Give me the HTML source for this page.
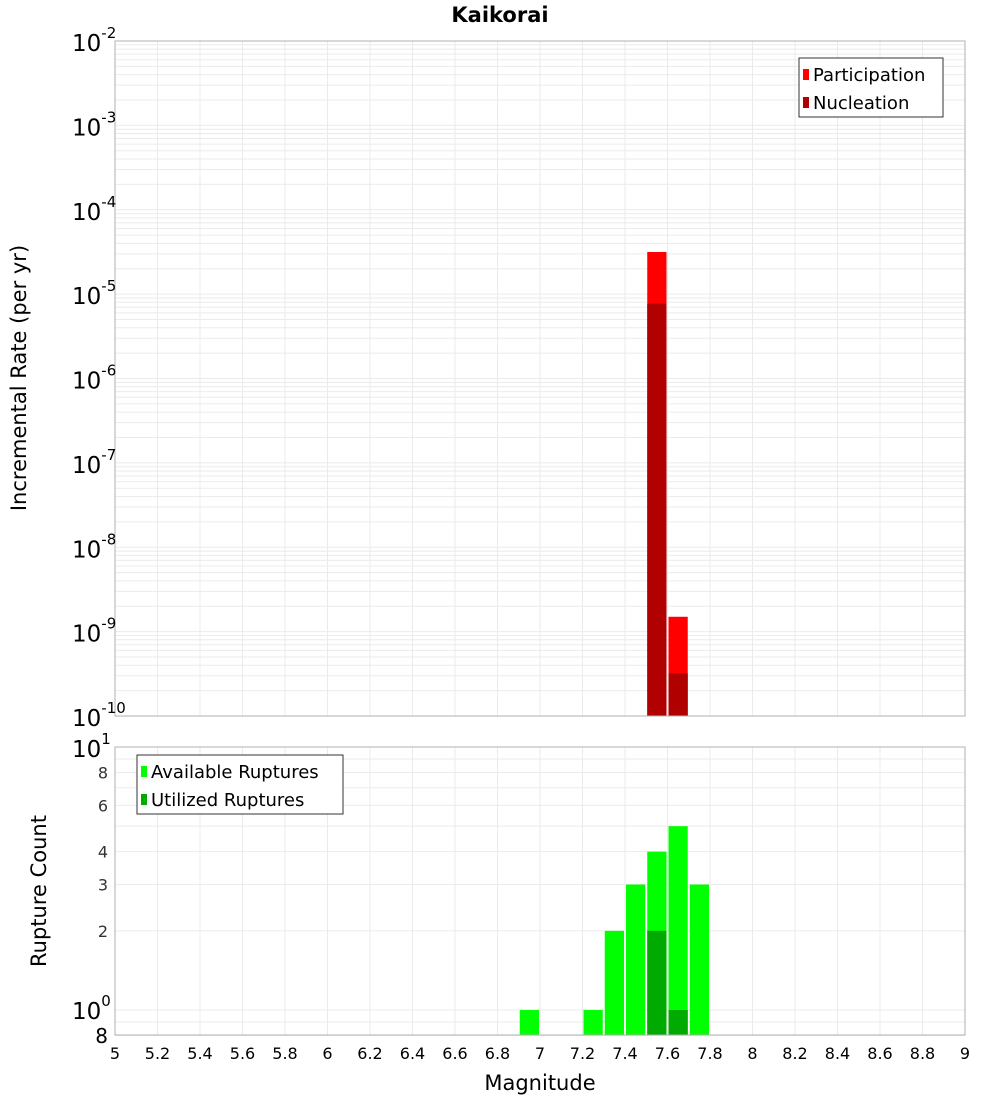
<!DOCTYPE html>
<html><head><meta charset="utf-8"><style>
body{margin:0;background:#fff;font-family:"DejaVu Sans","Liberation Sans",sans-serif}
</style></head><body>
<svg id="c" width="1000" height="1100" xmlns="http://www.w3.org/2000/svg" font-family="DejaVu Sans, Liberation Sans, sans-serif"></svg>
<script>
const binCenters=[7.55,7.65];
const participation=[3.16e-5,1.5e-9];
const nucleation=[7.7e-6,3.2e-10];
const countCenters=[6.95,7.25,7.35,7.45,7.55,7.65,7.75];
const available=[1,1,2,3,4,5,3];
const utilized=[0,0,0,0,2,1,0];
const xTicks=[5,5.2,5.4,5.6,5.8,6,6.2,6.4,6.6,6.8,7,7.2,7.4,7.6,7.8,8,8.2,8.4,8.6,8.8,9];
const topExps=[-2,-3,-4,-5,-6,-7,-8,-9,-10];
const botTicks=[8,6,4,3,2];

const NS="http://www.w3.org/2000/svg";
const svg=document.getElementById('c');
function mk(t,a,p){const e=document.createElementNS(NS,t);for(const k in a)e.setAttribute(k,a[k]);(p||svg).appendChild(e);return e;}
const L=115,R=965,T1=41,B1=716,T2=747,B2=1035;
const x=v=>L+(v-5)*(R-L)/4;
const y1=v=>T1+(-2-Math.log10(v))*(B1-T1)/8;
const y2=v=>1010-Math.log10(v)*263;
const bw=(R-L)/40-2;

// title
let t=mk('text',{x:500,y:22,'text-anchor':'middle','font-size':21,'font-weight':'bold'});t.textContent='Kaikorai';


// grids
const g=mk('g',{});
xTicks.forEach(v=>{mk('line',{x1:x(v),x2:x(v),y1:T1,y2:B1,stroke:'#ebebeb'},g);mk('line',{x1:x(v),x2:x(v),y1:T2,y2:B2,stroke:'#ebebeb'},g);});
for(let e=-10;e<-2;e++)for(let m=1;m<10;m++){const yy=y1(m*Math.pow(10,e));mk('line',{x1:L,x2:R,y1:yy,y2:yy,stroke:'#ebebeb'},g);}
[0.8,0.9,1,2,3,4,5,6,7,8,9].forEach(v=>{const yy=y2(v);mk('line',{x1:L,x2:R,y1:yy,y2:yy,stroke:'#ebebeb'},g);});

// top bars
binCenters.forEach((c,i)=>{
 let r=mk('rect',{x:x(c)-bw/2,y:y1(participation[i]),width:bw,height:B1-y1(participation[i]),fill:'#ff0000'});
 
 r=mk('rect',{x:x(c)-bw/2,y:y1(nucleation[i]),width:bw,height:B1-y1(nucleation[i]),fill:'#b00000'});
 
});
// bottom bars
countCenters.forEach((c,i)=>{
 let r=mk('rect',{x:x(c)-bw/2,y:y2(available[i]),width:bw,height:B2-y2(available[i]),fill:'#00ff00'});
 
 if(utilized[i]>0){r=mk('rect',{x:x(c)-bw/2,y:y2(utilized[i]),width:bw,height:B2-y2(utilized[i]),fill:'#00aa00'});
 }
});

// frames
let f=mk('rect',{x:L,y:T1,width:R-L,height:B1-T1,fill:'none',stroke:'#b0b0b0'});
f=mk('rect',{x:L,y:T2,width:R-L,height:B2-T2,fill:'none',stroke:'#b0b0b0'});

// top y ticks
topExps.forEach(e=>{const yy=y1(Math.pow(10,e));
 const tt=mk('text',{x:103,y:yy+10,'text-anchor':'end','font-size':23});
 
 tt.innerHTML='10<tspan dy="-13" font-size="15">'+e+'</tspan>';
 tt.setAttribute('x',72);tt.setAttribute('text-anchor','start');
});
// bottom y ticks
let tt=mk('text',{x:72,y:757,'font-size':23});tt.innerHTML='10<tspan dy="-13" font-size="15">1</tspan>';

tt=mk('text',{x:72,y:1019,'font-size':23});tt.innerHTML='10<tspan dy="-13" font-size="15">0</tspan>';

botTicks.forEach(v=>{const q=mk('text',{x:108,y:y2(v)+6,'text-anchor':'end','font-size':16,fill:'#333'});q.textContent=v;
 });
tt=mk('text',{x:108,y:1043,'text-anchor':'end','font-size':20});tt.textContent='8';


// x ticks
xTicks.forEach(v=>{const q=mk('text',{x:x(v),y:1059,'text-anchor':'middle','font-size':16});q.textContent=String(v);
 });

// axis titles
let a=mk('text',{x:540,y:1090,'text-anchor':'middle','font-size':21});a.textContent='Magnitude';

a=mk('text',{x:0,y:0,'text-anchor':'middle','font-size':21,transform:'translate(26,378) rotate(-90)'});a.textContent='Incremental Rate (per yr)';

a=mk('text',{x:0,y:0,'text-anchor':'middle','font-size':21,transform:'translate(46,891) rotate(-90)'});a.textContent='Rupture Count';


// legends
function legend(x0,y0,w,items,name){
 const lg=mk('g',{});
 mk('rect',{x:x0,y:y0,width:w,height:59,fill:'#fff',stroke:'#333'},lg);
 items.forEach((it,i)=>{mk('rect',{x:x0+4,y:y0+11+i*28,width:6,height:11,fill:it[1]},lg);
  const q=mk('text',{x:x0+14,y:y0+23+i*28,'font-size':18},lg);q.textContent=it[0];
  });
}
legend(799,58,144,[['Participation','#ff0000'],['Nucleation','#b00000']],'top-legend');
legend(137,755,206,[['Available Ruptures','#00ff00'],['Utilized Ruptures','#00aa00']],'bottom-legend');
</script>
</body></html>
